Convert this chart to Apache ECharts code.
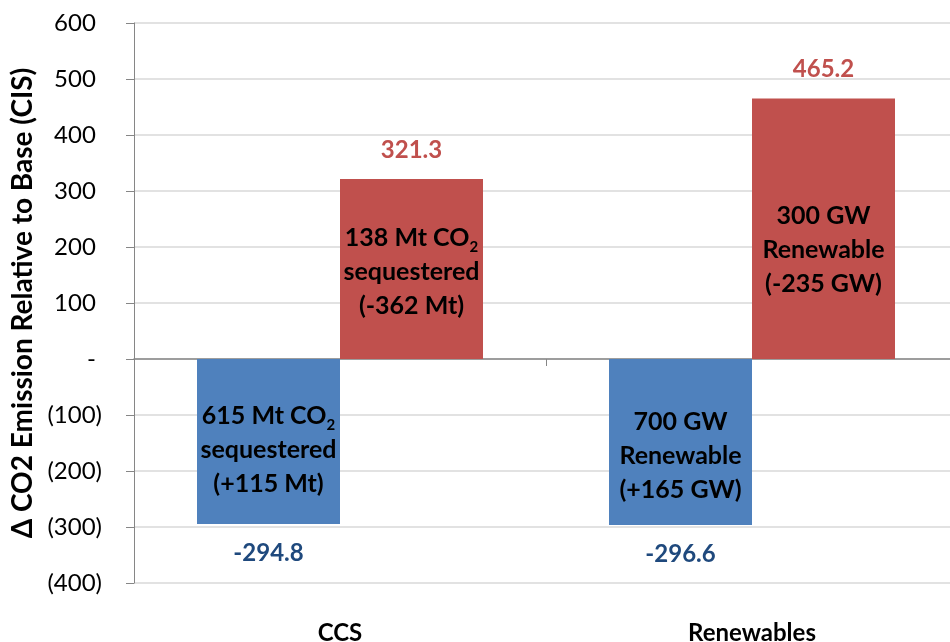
<!DOCTYPE html>
<html>
<head>
<meta charset="utf-8">
<script src="https://cdn.jsdelivr.net/npm/echarts@6/dist/echarts.min.js"></script>
<style>
  html, body { margin: 0; padding: 0; background: #fff; }
  #chart { width: 950px; height: 642px; }
</style>
</head>
<body>
<div id="chart"></div>
<script>
// data
const categories = ["CCS", "Renewables"];
const lowValues = [-294.8, -296.6];
const highValues = [321.3, 465.2];
const lowNotes = ["615 Mt CO{sub|2}\nsequestered\n(+115 Mt)", "700 GW\nRenewable\n(+165 GW)"];
const highNotes = ["138 Mt CO{sub|2}\nsequestered\n(-362 Mt)", "300 GW\nRenewable\n(-235 GW)"];
const yTicks = { min: -400, max: 600, step: 100 };

const FONT = "Lato";
const BLUE = "#4f81bd";
const RED = "#c0504d";
// vertical nudge of the text inside each bar (px), as placed in the original
const lowNoteShift = [8, 14];
const highNoteShift = [3, 21];

const chart = echarts.init(document.getElementById("chart"));

const noteLabel = {
  show: true,
  position: "inside",
  color: "#000",
  fontFamily: FONT,
  fontWeight: "bold",
  fontSize: 25,
  lineHeight: 34,
  rich: {
    sub: { fontFamily: FONT, fontWeight: "bold", fontSize: 15, lineHeight: 10, verticalAlign: "bottom", color: "#000" },
  },
};

const noteData = (values, notes, shifts) =>
  values.map((v, i) => ({
    value: v,
    label: { ...noteLabel, formatter: notes[i], offset: [0, shifts[i]] },
  }));

const valueLabel = (position, color) => ({
  show: true,
  position,
  distance: 17,
  color,
  fontFamily: FONT,
  fontWeight: "bold",
  fontSize: 24,
  formatter: (p) => p.value.toFixed(1),
});

const options = {
  animation: false,
  textStyle: { fontFamily: FONT },
  grid: { left: 134, width: 824, top: 23, bottom: 59, containLabel: false, outerBoundsMode: "none" },
  xAxis: [
    {
      type: "category",
      data: categories,
      axisLine: { show: true, onZero: true, lineStyle: { color: "#868686", width: 1.5 } },
      axisTick: { show: true, length: 7, lineStyle: { color: "#868686" } },
      axisLabel: { show: false },
      splitLine: { show: false },
    },
    {
      type: "category",
      data: categories,
      position: "bottom",
      axisLine: { show: false, onZero: false },
      axisTick: { show: false },
      axisLabel: { show: true, margin: 38, color: "#000", fontFamily: FONT, fontWeight: "bold", fontSize: 24 },
    },
  ],
  yAxis: {
    type: "value",
    min: yTicks.min,
    max: yTicks.max,
    interval: yTicks.step,
    name: "Δ CO2 Emission Relative to Base (CIS)",
    nameLocation: "middle",
    nameGap: 97,
    nameTextStyle: { color: "#000", fontFamily: FONT, fontWeight: "bold", fontSize: 28 },
    axisLine: { show: true, lineStyle: { color: "#868686" } },
    axisTick: { show: true, length: 8, lineStyle: { color: "#868686" } },
    axisLabel: {
      margin: 32,
      color: "#000",
      fontFamily: FONT,
      fontSize: 24,
      // accounting style: negatives in brackets, zero as a dash, positives padded
      formatter: (v) => (v < 0 ? "(" + Math.abs(v) + ")" : (v === 0 ? "-" : v) + "\u00a0"),
    },
    splitLine: { show: true, lineStyle: { color: "#d9d9d9", width: 1.5 } },
  },
  series: [
    {
      type: "bar",
      xAxisIndex: 0,
      data: lowValues,
      barWidth: 143,
      barGap: "0%",
      itemStyle: { color: BLUE },
      label: valueLabel("bottom", "#1f497d"),
    },
    {
      type: "bar",
      xAxisIndex: 0,
      data: highValues,
      barWidth: 143,
      barGap: "0%",
      itemStyle: { color: RED },
      label: valueLabel("top", RED),
    },
    // transparent twins carrying the text inside each bar
    {
      type: "bar",
      xAxisIndex: 1,
      data: noteData(lowValues, lowNotes, lowNoteShift),
      barWidth: 143,
      barGap: "0%",
      itemStyle: { color: "rgba(0,0,0,0)" },
      silent: true,
    },
    {
      type: "bar",
      xAxisIndex: 1,
      data: noteData(highValues, highNotes, highNoteShift),
      barWidth: 143,
      barGap: "0%",
      itemStyle: { color: "rgba(0,0,0,0)" },
      silent: true,
    },
  ],
};

chart.setOption(options);
window.addEventListener("resize", () => chart.resize());
</script>
</body>
</html>
